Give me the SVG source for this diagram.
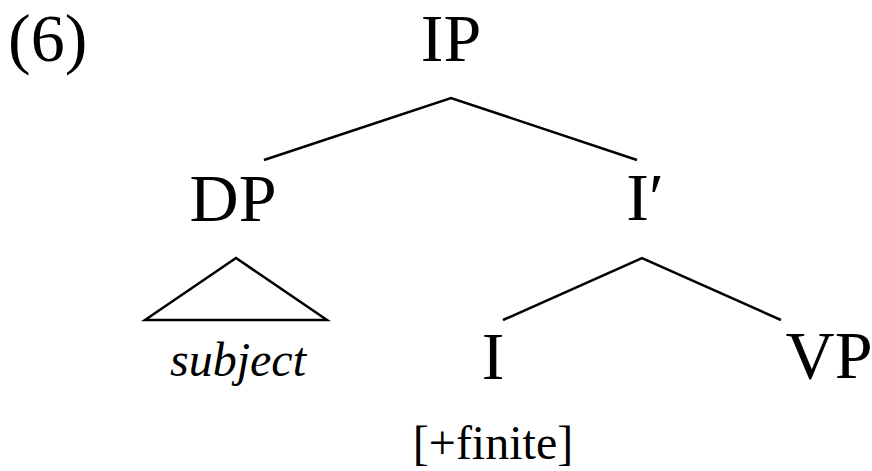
<svg xmlns="http://www.w3.org/2000/svg" width="872" height="471" viewBox="0 0 872 471">
<style>
  text { font-family: "Liberation Serif", "Times New Roman", serif; fill: #000; }
  .lab { font-size: 68px; text-anchor: middle; }
  .small { font-size: 48px; text-anchor: middle; }
  .it { font-style: italic; }
  .edge { fill: none; stroke: #000; stroke-width: 2.5; stroke-linejoin: miter; }
</style>
<rect width="872" height="471" fill="#fff"/>
<text id="ex-num" x="8" y="61" font-size="68">(6)</text>
<g id="connectors">
  <polyline class="edge" points="264,160 451,98 637,160"/>
  <polyline class="edge" points="503,320 642,258 781,320"/>
</g>
<g id="IP"><text class="lab" x="451" y="61">IP</text></g>
<g id="DP">
  <text class="lab" x="233" y="221">DP</text>
  <polygon class="edge" points="145,320 236,258 327,320"/>
  <text class="small it" x="238" y="376">subject</text>
</g>
<g id="Ibar"><text class="lab" x="645" y="220">I′</text></g>
<g id="I">
  <text class="lab" x="493" y="379">I</text>
  <text class="small" x="493" y="459">[+finite]</text>
</g>
<g id="VP"><text class="lab" x="829" y="378">VP</text></g>
</svg>
